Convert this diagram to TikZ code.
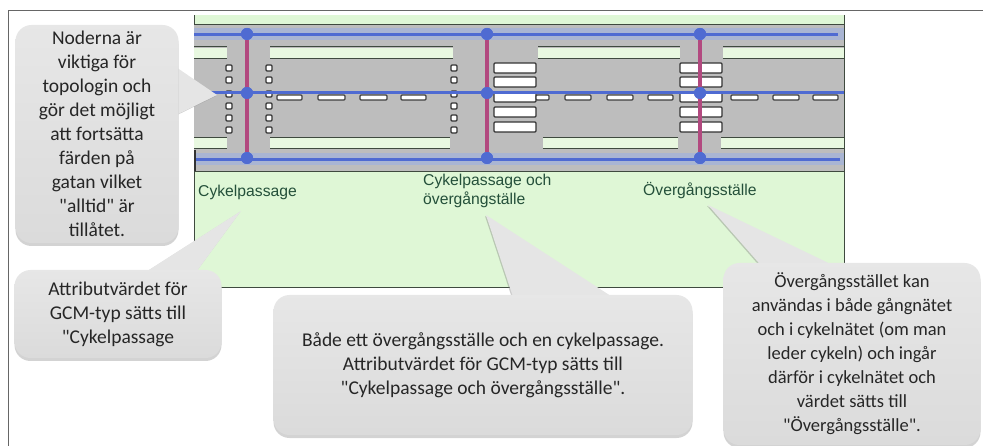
\documentclass[tikz,border=0pt]{standalone}
\usepackage{fontspec}
\newfontfamily\notefont{Carlito}
\setsansfont{Liberation Sans}
\usepackage{xcolor}
\usetikzlibrary{shadows, calc}
\definecolor{gcGreen}{HTML}{DFF7D6}
\definecolor{gcStrip}{HTML}{E8F8E0}
\definecolor{gcRoad}{HTML}{BDBDBD}
\definecolor{gcBlue}{HTML}{4F6BD2}
\definecolor{gcBand}{HTML}{A9B5D3}
\definecolor{gcLink}{HTML}{B2497F}
\definecolor{gcEdge}{HTML}{3F4A3F}
\definecolor{gcText}{HTML}{24503A}
\definecolor{gcNote}{HTML}{E4E4E4}
\tikzset{
  gc-note/.style={
    rectangle, rounded corners=16pt, draw=none, top color=gcNote!90!white,
    bottom color=gcNote!96!black, align=center, text=black!85, inner sep=0pt,
    drop shadow={shadow xshift=0pt, shadow yshift=-3pt, opacity=.35},
    font=\notefont\fontsize{19.5}{24}\selectfont
  },
  gc-ptr/.style={fill=gcNote!95!white, draw=none,
    drop shadow={shadow xshift=-1pt, shadow yshift=-1pt, opacity=.4}},
  gc-label/.style={align=left, anchor=west, inner sep=0pt, text=gcText,
    font=\fontsize{15.7}{19}\selectfont\sffamily},
  gc-gnode/.style={circle, fill=gcBlue, minimum size=12pt, inner sep=0pt},
  gc-dot/.style={rectangle, rounded corners=1pt, draw=black!80, fill=white,
    line width=1.3pt, minimum width=6pt, minimum height=6pt, inner sep=0pt},
  gc-zebra/.style={rectangle, rounded corners=1pt, draw=black!80, fill=white,
    line width=1.3pt, minimum width=42pt, minimum height=10pt, inner sep=0pt},
  gc-dash/.style={rectangle, rounded corners=1pt, draw=black!75, fill=white,
    line width=1.1pt, minimum height=5pt, inner sep=0pt},
  gc-kerb/.style={draw=gcEdge, line width=1pt},
  gc-net/.style={draw=gcBlue, line width=2.6pt},
  gc-link/.style={draw=gcLink, line width=4.5pt},
}
\begin{document}
\begin{tikzpicture}[x=1pt, y=-1pt]
  \useasboundingbox (0,0) rectangle (983,446);
  % frame
  \draw[black!60, line width=1pt] (8,446) -- (8,11) -- (983,11);
  % ground and road
  \fill[gcGreen] (194,15) rectangle (844,288);
  \draw[gcEdge, line width=1pt] (194,288) -- (194,15) (844,15) -- (844,288) -- (194,288);
  \fill[gcRoad] (194,25) rectangle (844,172);
  \draw[gc-kerb] (194,25) -- (844,25) (194,172) -- (844,172);
  \fill[gcBand] (194,28) rectangle (844,40);
  \fill[gcBand] (194,153) rectangle (844,165);
  \draw[black!80, line width=1.5pt] (195,150) -- (195,171);
  % kerb strips
  \foreach \xa/\xb in {194/227, 270/453, 538/680, 723/844} {
    \fill[gcStrip] (\xa,48) rectangle (\xb,59);
    \draw[gc-kerb] (\xa,47) -- (\xb,47) (\xa,59) -- (\xb,59);
  }
  \foreach \xa/\xb in {194/227, 270/450, 543/678, 721/844} {
    \fill[gcStrip] (\xa,138) rectangle (\xb,149);
    \draw[gc-kerb] (\xa,138) -- (\xb,138) (\xa,149) -- (\xb,149);
  }
  % cycle crossings
  \foreach \yy [count=\i] in {68,80,94,106,118,130} {
    \node[gc-dot] (dotA\i) at (229,\yy) {};
    \node[gc-dot] (dotB\i) at (269,\yy) {};
    \node[gc-dot] (dotC\i) at (454,\yy) {};
  }
  % zebra crossings
  \foreach \yy [count=\i] in {68,82,97,112,127} {
    \node[gc-zebra] (zebA\i) at (515,\yy) {};
    \node[gc-zebra] (zebB\i) at (701,\yy) {};
  }
  % centre line
  \foreach \xa/\xb in {277/302, 318/345, 360/387, 401/426, 536/549, 565/591, 607/633,
                       648/673, 731/758, 773/799, 813/838} {
    \node[gc-dash, minimum width=\xb pt-\xa pt] at ({(\xa+\xb)/2},97.5) {};
  }
  % network
  \foreach \xx/\nn in {247/a, 487/b, 700/c} {
    \node[gc-gnode] (top\nn) at (\xx,34) {};
    \node[gc-gnode] (mid\nn) at (\xx,93) {};
    \node[gc-gnode] (low\nn) at (\xx,158) {};
    \draw[gc-link] (top\nn) -- (low\nn);
    \node[gc-gnode] at (top\nn) {};
    \node[gc-gnode] at (mid\nn) {};
    \node[gc-gnode] at (low\nn) {};
  }
  \coordinate (netTopW) at (194,34.5);
  \coordinate (netTopE) at (838,34.5);
  \coordinate (netMidW) at (194,92.5);
  \coordinate (netMidE) at (844,92.5);
  \coordinate (netLowW) at (196,159.5);
  \coordinate (netLowE) at (840,159.5);
  \draw[gc-net] (netTopW) -- (netTopE);
  \draw[gc-net] (netMidW) -- (netMidE);
  \draw[gc-net] (netLowW) -- (netLowE);
  % labels
  \node[gc-label] (lblCykel) at (198,192) {Cykelpassage};
  \node[gc-label] (lblBada) at (423,191) {Cykelpassage och\\övergångställe};
  \node[gc-label] (lblOver) at (643,191) {Övergångsställe};
  % notes
  \coordinate (tipNod) at (217,95);
  \coordinate (tipCyk) at (241,211);
  \coordinate (tipBad) at (486,215);
  \coordinate (tipOve) at (708,205);
  \path[gc-ptr] (170,63) -- (tipNod) -- (170,118) -- cycle;
  \path[gc-ptr] (141,275) -- (tipCyk) -- (194,275) -- cycle;
  \path[gc-ptr] (514,300) -- (tipBad) -- (617,300) -- cycle;
  \path[gc-ptr] (765,270) -- (tipOve) -- (843,270) -- cycle;
  \node[gc-note, minimum width=163pt, minimum height=218pt] (noteNod) at (97,134)
    {Noderna är\\viktiga för\\topologin och\\gör det möjligt\\att fortsätta\\färden på\\gatan vilket\\"alltid" är\\tillåtet.};
  \node[gc-note, minimum width=207pt, minimum height=88pt] (noteCyk) at (118,314)
    {Attributvärdet för\\GCM-typ sätts till\\"Cykelpassage};
  \node[gc-note, minimum width=419pt, minimum height=140pt] (noteBad) at (483,365)
    {Både ett övergångsställe och en cykelpassage.\\Attributvärdet för GCM-typ sätts till\\"Cykelpassage och övergångsställe".};
  \node[gc-note, minimum width=257pt, minimum height=182pt,
        font=\notefont\fontsize{18.5}{24}\selectfont] (noteOve) at (852,354)
    {Övergångsstället kan\\användas i både gångnätet\\och i cykelnätet (om man\\leder cykeln) och ingår\\därför i cykelnätet och\\värdet sätts till\\"Övergångsställe".};
\end{tikzpicture}
\end{document}
